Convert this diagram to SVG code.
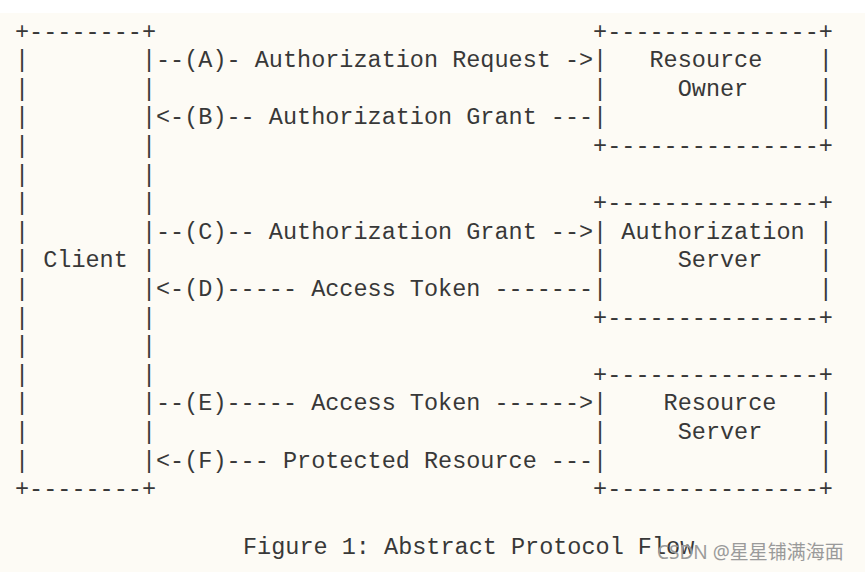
<svg xmlns="http://www.w3.org/2000/svg" width="865" height="572" viewBox="0 0 865 572" xml:space="preserve">
<style>
.m { font-family: "Liberation Mono", "DejaVu Sans Mono", monospace; font-size: 23.5px; fill: #383838; white-space: pre; }
.wm { font-family: "Noto Sans", "Noto Sans CJK SC", sans-serif; font-size: 19px; fill: #9a9a9a; }
</style>
<rect x="0" y="0" width="865" height="572" fill="#ffffff"/>
<rect x="0" y="13" width="865" height="559" fill="#fdfbf5"/>
<g id="client">
<text class="m" x="15"><tspan x="15" y="38.5">+--------+</tspan><tspan x="15" y="67.1">|        |</tspan><tspan x="15" y="95.7">|        |</tspan><tspan x="15" y="124.3">|        |</tspan><tspan x="15" y="152.9">|        |</tspan><tspan x="15" y="181.5">|        |</tspan><tspan x="15" y="210.1">|        |</tspan><tspan x="15" y="238.7">|        |</tspan><tspan x="15" y="267.3">| Client |</tspan><tspan x="15" y="295.9">|        |</tspan><tspan x="15" y="324.5">|        |</tspan><tspan x="15" y="353.1">|        |</tspan><tspan x="15" y="381.7">|        |</tspan><tspan x="15" y="410.3">|        |</tspan><tspan x="15" y="438.9">|        |</tspan><tspan x="15" y="467.5">|        |</tspan><tspan x="15" y="496.1">+--------+</tspan></text>
</g>
<g id="resource-owner">
<text class="m"><tspan x="593.1" y="38.5">+---------------+</tspan><tspan x="593.1" y="67.1">|   Resource    |</tspan><tspan x="593.1" y="95.7">|     Owner     |</tspan><tspan x="593.1" y="124.3">|               |</tspan><tspan x="593.1" y="152.9">+---------------+</tspan></text>
</g>
<g id="authorization-server">
<text class="m"><tspan x="593.1" y="210.1">+---------------+</tspan><tspan x="593.1" y="238.7">| Authorization |</tspan><tspan x="593.1" y="267.3">|     Server    |</tspan><tspan x="593.1" y="295.9">|               |</tspan><tspan x="593.1" y="324.5">+---------------+</tspan></text>
</g>
<g id="resource-server">
<text class="m"><tspan x="593.1" y="381.7">+---------------+</tspan><tspan x="593.1" y="410.3">|    Resource   |</tspan><tspan x="593.1" y="438.9">|     Server    |</tspan><tspan x="593.1" y="467.5">|               |</tspan><tspan x="593.1" y="496.1">+---------------+</tspan></text>
</g>
<g id="connectors">
<text class="m" x="156" y="67.1">--(A)- Authorization Request -&gt;</text>
<text class="m" x="156" y="124.3">&lt;-(B)-- Authorization Grant ---</text>
<text class="m" x="156" y="238.7">--(C)-- Authorization Grant --&gt;</text>
<text class="m" x="156" y="295.9">&lt;-(D)----- Access Token -------</text>
<text class="m" x="156" y="410.3">--(E)----- Access Token ------&gt;</text>
<text class="m" x="156" y="467.5">&lt;-(F)--- Protected Resource ---</text>
</g>
<g id="caption">
<text class="m" x="243" y="553.5">Figure 1: Abstract Protocol Flow</text>
</g>
<g id="watermark">
<text class="wm" x="657" y="559">CSDN @星星铺满海面</text>
</g>
</svg>
